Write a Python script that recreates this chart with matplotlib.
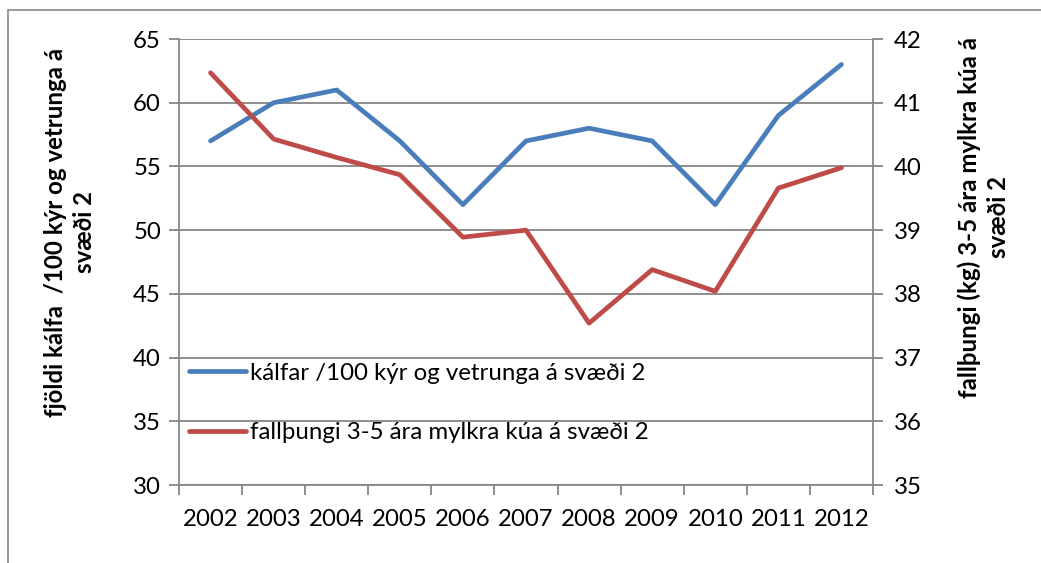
import matplotlib
matplotlib.use('Agg')
import matplotlib.pyplot as plt
from matplotlib.patches import Rectangle

years = ['2002', '2003', '2004', '2005', '2006', '2007', '2008', '2009', '2010', '2011', '2012']
kalfar = [57, 60, 61, 57, 52, 57, 58, 57, 52, 59, 63]
fallthungi = [41.47, 40.43, 40.14, 39.87, 38.89, 39.0, 37.54, 38.38, 38.04, 39.66, 39.98]

blue = '#4A7EBB'
red = '#BE4B48'
grid_c = '#868686'

plt.rcParams['font.family'] = ['Lato', 'DejaVu Sans']
fs = 17.3

fig = plt.figure(figsize=(10.41, 5.63), dpi=100)
fig.patches.append(Rectangle((8 / 1041, -0.1), 1.2, 1 - 10 / 563 + 0.1, transform=fig.transFigure,
                             fill=False, edgecolor='#888888', lw=1.2))

ax = fig.add_axes([179 / 1041, 1 - 485 / 563, (873 - 179) / 1041, (485 - 39) / 563])
ax2 = ax.twinx()

x = list(range(len(years)))
l1, = ax.plot(x, kalfar, color=blue, lw=3.4, solid_capstyle='round', solid_joinstyle='round',
              label='kálfar /100 kýr og vetrunga á svæði 2')
l2, = ax2.plot(x, fallthungi, color=red, lw=3.4, solid_capstyle='round', solid_joinstyle='round',
               label='fallþungi 3-5 ára mylkra kúa á svæði 2')

ax.set_xlim(-0.5, len(years) - 0.5)
ax.set_ylim(30, 65)
ax2.set_ylim(35, 42)
ax.set_yticks(range(30, 66, 5))
ax2.set_yticks(range(35, 43))
ax.yaxis.grid(True, color=grid_c, lw=1.3)
ax.set_axisbelow(True)

# category boundary ticks, labels centred between them
ax.set_xticks([i - 0.5 for i in range(len(years) + 1)])
ax.set_xticklabels([])
ax.set_xticks(x, minor=True)
ax.set_xticklabels(years, minor=True, fontsize=fs)
ax.tick_params(axis='x', which='major', length=7, color=grid_c, width=1.3, direction='out')
ax.tick_params(axis='x', which='minor', length=0, pad=17)
ax.tick_params(axis='y', length=7, color=grid_c, width=1.3, labelsize=fs, pad=6)
ax2.tick_params(axis='y', length=7, color=grid_c, width=1.3, labelsize=fs, pad=8)

for a in (ax, ax2):
    for s in a.spines.values():
        s.set_visible(False)
for a, side in ((ax, 'left'), (ax, 'bottom'), (ax2, 'right')):
    a.spines[side].set_visible(True)
    a.spines[side].set_color(grid_c)
    a.spines[side].set_linewidth(1.3)

leg = ax2.legend(handles=[l1, l2], loc='lower left', bbox_to_anchor=(0.0, 0.072),
                 frameon=False, fontsize=fs, handlelength=2.4, handletextpad=0.15,
                 labelspacing=1.6, borderaxespad=0.0)

fig.text(70 / 1041, 1 - 232 / 563, 'fjöldi kálfa  /100 kýr og vetrunga á\nsvæði 2',
         rotation=90, ha='center', va='center', multialignment='center',
         fontsize=fs, fontweight='bold', linespacing=1.3)
fig.text(984 / 1041, 1 - 217 / 563, 'fallþungi (kg) 3-5 ára mylkra kúa á\nsvæði 2',
         rotation=90, ha='center', va='center', multialignment='center',
         fontsize=fs, fontweight='bold', linespacing=1.3)

fig.savefig('out.png', dpi=100)
